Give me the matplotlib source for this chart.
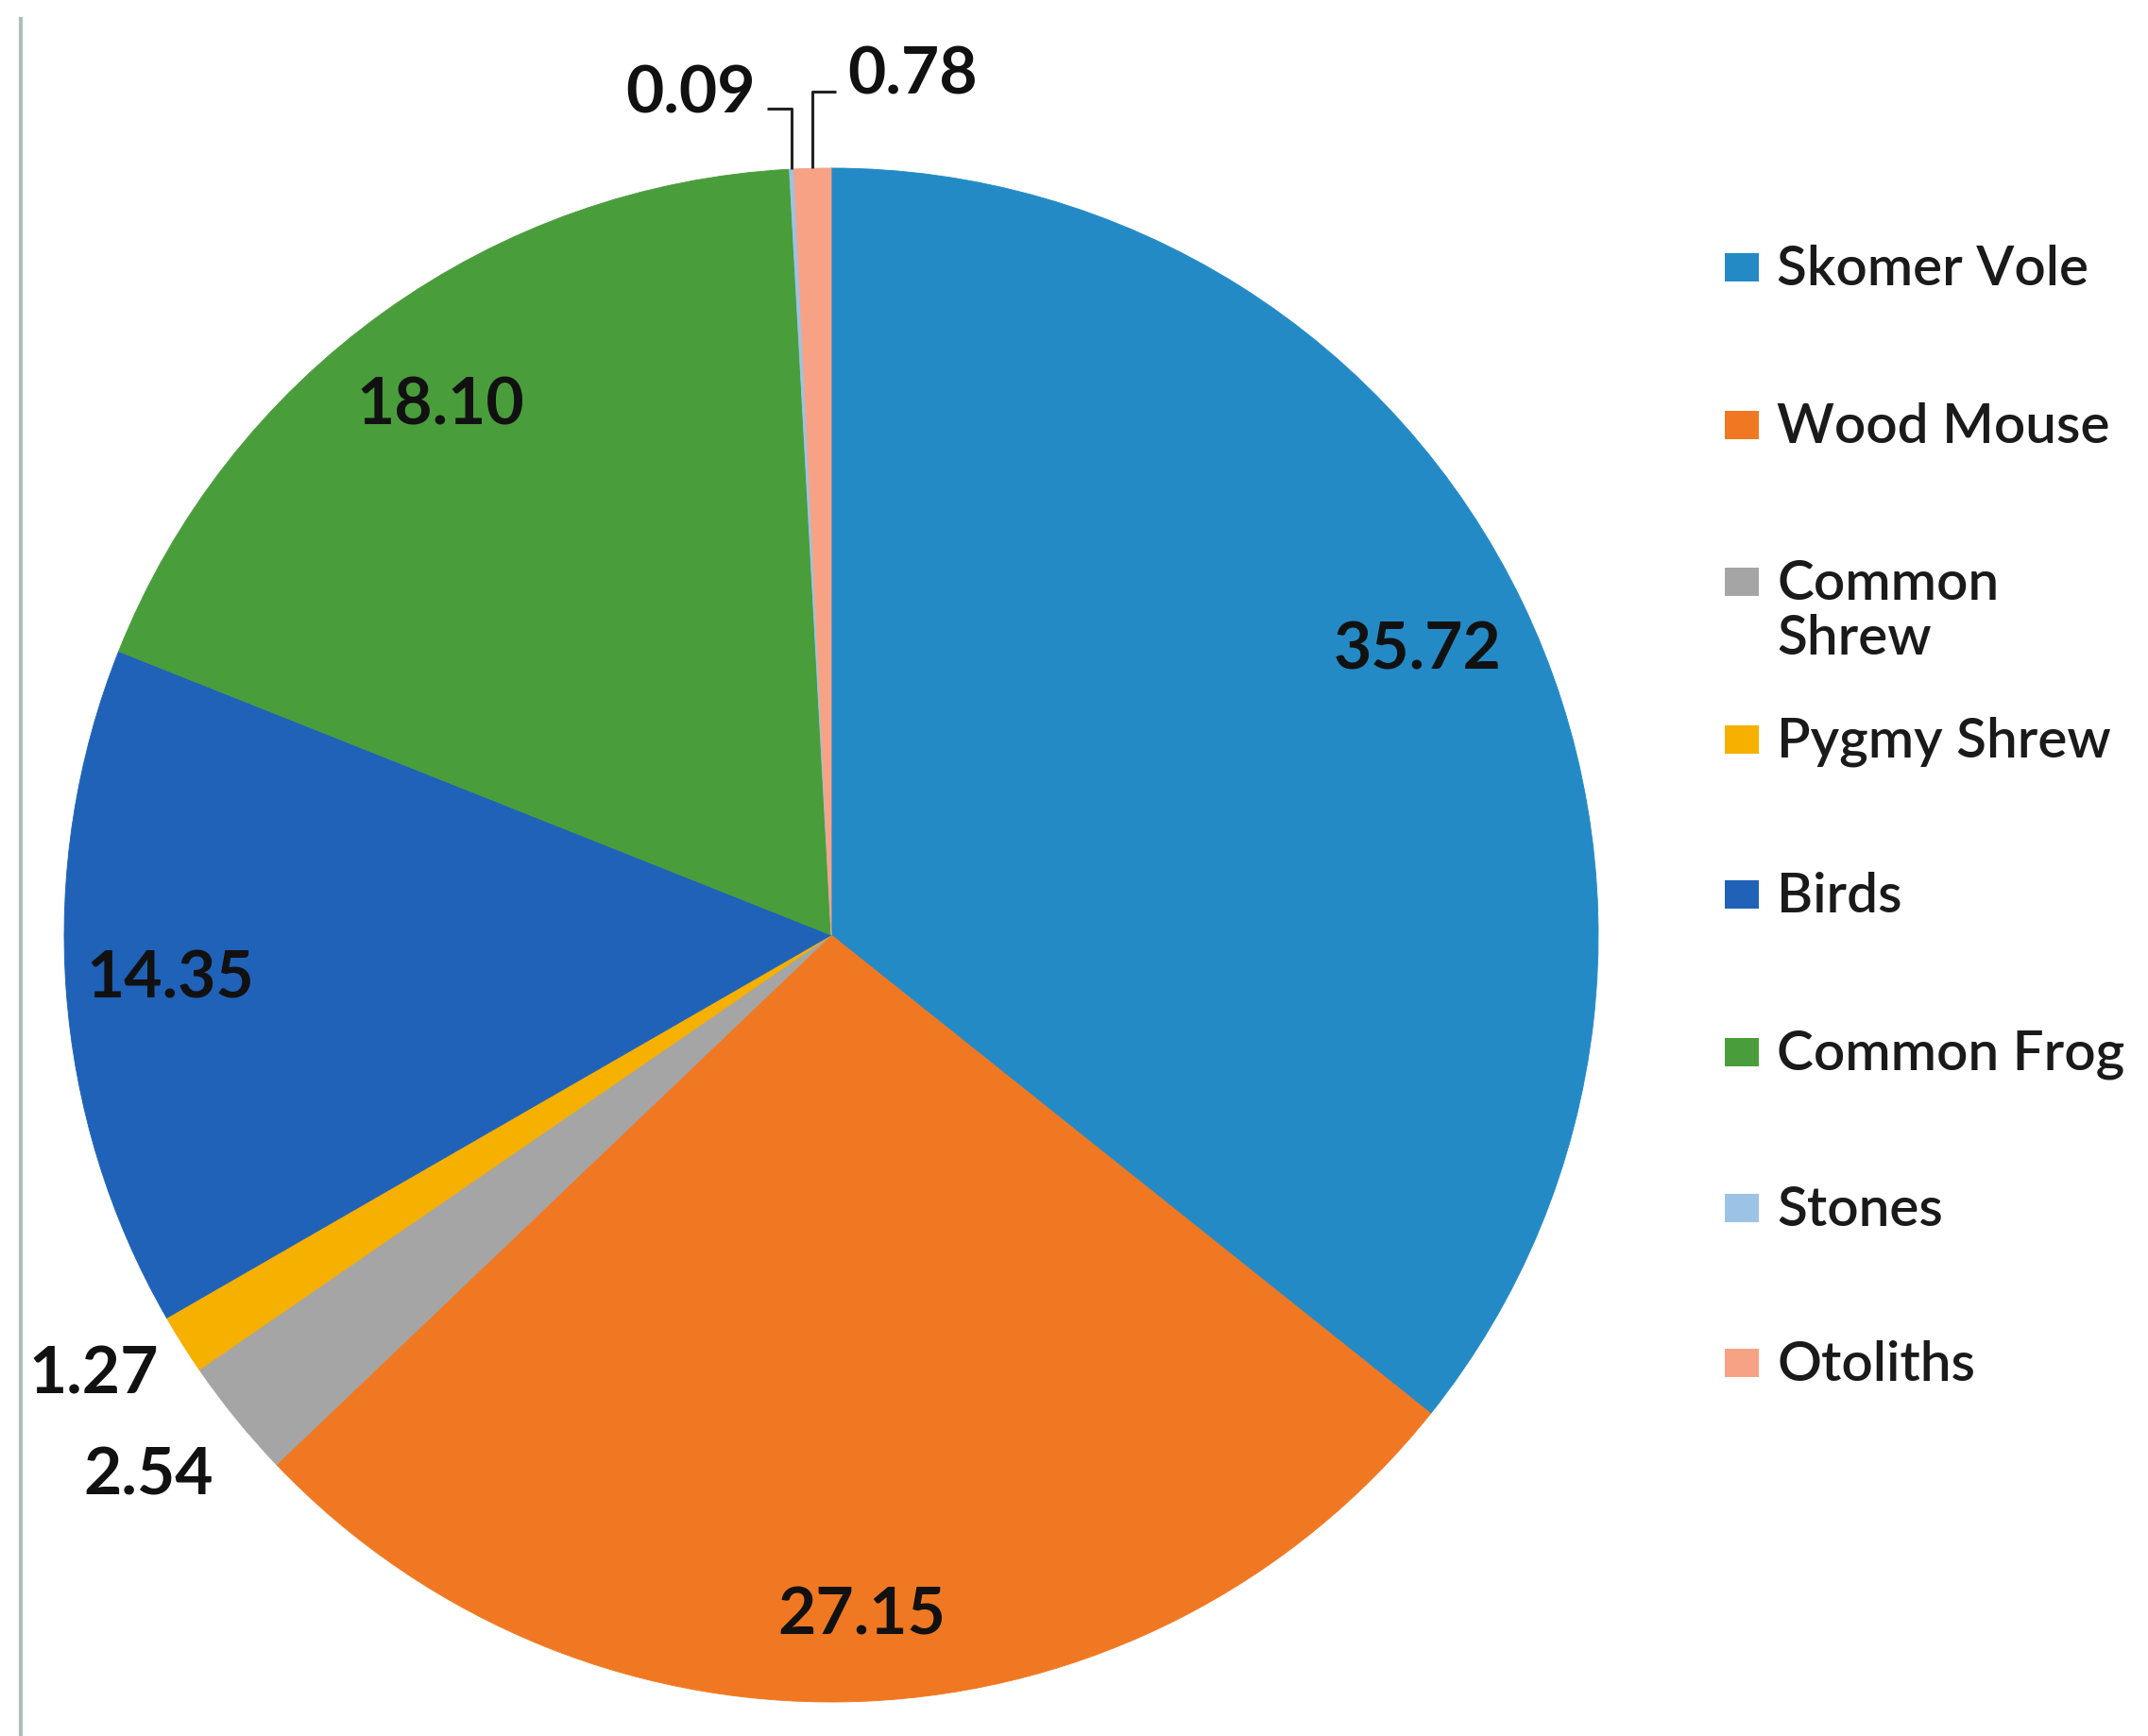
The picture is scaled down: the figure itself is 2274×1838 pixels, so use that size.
import matplotlib
matplotlib.use("Agg")
import matplotlib.pyplot as plt
from matplotlib.patches import Rectangle
import numpy as np

# diet composition (% of items)
names = ["Skomer Vole", "Wood Mouse", "Common Shrew", "Pygmy Shrew",
         "Birds", "Common Frog", "Stones", "Otoliths"]
values = [35.72, 27.15, 2.54, 1.27, 14.35, 18.10, 0.09, 0.78]
legend_names = ["Skomer Vole", "Wood Mouse", "Common\nShrew", "Pygmy Shrew",
                "Birds", "Common Frog", "Stones", "Otoliths"]
colors = ["#238ac6", "#f07822", "#a5a5a5", "#f5b000",
          "#1f62b8", "#4a9d3b", "#9cc3e5", "#f7a285"]

# label positions in pixels (x, y from top)
label_px = [(1501, 689), (912, 1711), (157, 1563), (99, 1456),
            (180, 1037), (466, 430), (800, 100), (897, 80)]
label_ha = ["center", "center", "center", "center",
            "center", "center", "right", "left"]

W, H = 2274, 1838
CX, CY, R = 880, 990, 812

plt.rcParams["font.family"] = ["Lato", "DejaVu Sans"]


def to_data(x, y):
    return (x - CX) / R, (CY - y) / R


fig = plt.figure(figsize=(W / 100, H / 100), dpi=100)
fig.patch.set_facecolor("white")
ax = fig.add_axes([0, 0, 1, 1])

wedges, _ = ax.pie(values, colors=colors, startangle=90, counterclock=False,
                   radius=1, center=(0, 0),
                   wedgeprops=dict(linewidth=0.6))
# edge in the slice's own colour hides the anti-aliasing seams
for w, c in zip(wedges, colors):
    w.set_edgecolor(c)
ax.set_xlim(-CX / R, (W - CX) / R)
ax.set_ylim(-(H - CY) / R, CY / R)
ax.axis("off")

# value labels
for v, (lx, ly), ha in zip(values, label_px, label_ha):
    x, y = to_data(lx, ly)
    ax.text(x, y, f"{v:.2f}", ha=ha, va="center", fontsize=50,
            fontweight="bold", color="#111111")

# leader lines for the two thin slices at the top
def leader(wedge, start_px, line_y):
    mid = np.deg2rad((wedge.theta1 + wedge.theta2) / 2)
    wx, wy = np.cos(mid), np.sin(mid)
    sx, sy = to_data(start_px, line_y)
    ax.plot([sx, wx, wx], [sy, sy, wy], color="#222222", lw=2.2,
            solid_capstyle="butt")

leader(wedges[6], 812, 115)
leader(wedges[7], 885, 97)

# legend
row_y = [283, 450, 616, 783, 947, 1114, 1279, 1443]
for name, col, ry in zip(legend_names, colors, row_y):
    x0, y0 = to_data(1826, ry + 15)
    ax.add_patch(Rectangle((x0, y0), 36 / R, 30 / R, facecolor=col,
                           edgecolor="none"))
    tx, ty = to_data(1881, ry - 24)
    ax.text(tx, ty, name, ha="left", va="top", fontsize=42,
            fontweight="semibold", color="#1a1a1a", linespacing=1.12)

# thin frame line at the left edge
x0, y0 = to_data(22, 20)
x1, y1 = to_data(22, H)
ax.plot([x0, x1], [y0, y1], color="#aebfbb", lw=3)

fig.savefig("out.png", dpi=100, facecolor="white")
